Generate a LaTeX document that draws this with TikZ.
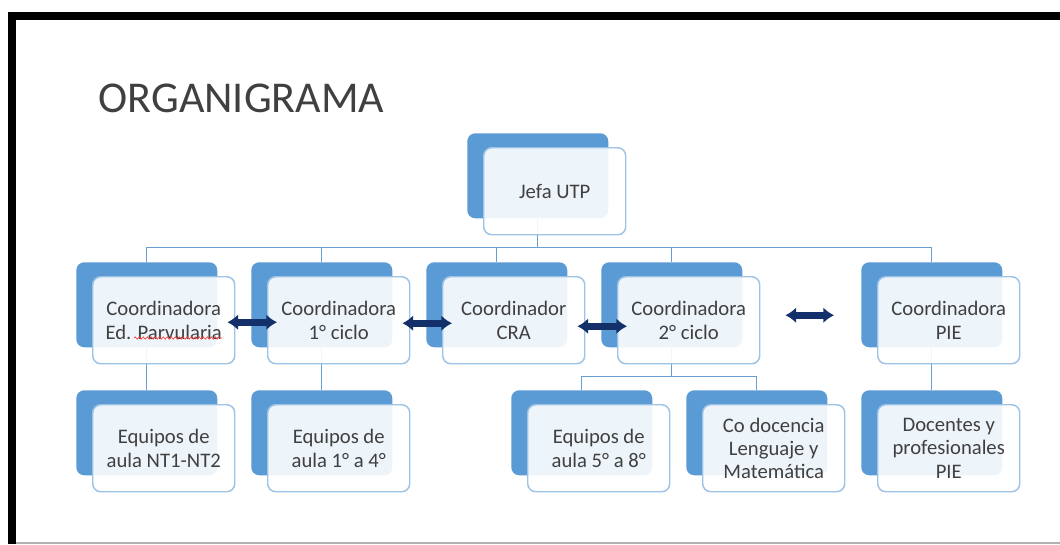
\documentclass[tikz,border=0pt]{standalone}
\usepackage{fontspec}
\setmainfont{Carlito}
\usetikzlibrary{arrows.meta,calc,backgrounds,decorations.pathmorphing}
\definecolor{boxblue}{HTML}{5B9BD5}
\definecolor{rimblue}{HTML}{9DC3E6}
\definecolor{linkblue}{HTML}{6A9FD4}
\definecolor{navy}{HTML}{13306B}
\definecolor{txtgray}{HTML}{404040}
\begin{document}
\begin{tikzpicture}[x=0.75pt, y=-0.75pt,
  back/.style={anchor=north west, fill=boxblue, rounded corners=6pt, minimum width=105.75pt, minimum height=63.75pt, inner sep=0pt},
  front/.style={anchor=north west, draw=rimblue, line width=1.1pt, fill=white, fill opacity=0.9, text opacity=1, text=txtgray, rounded corners=6pt, minimum width=106.5pt, minimum height=65.25pt, inner sep=0pt, align=center, font=\fontsize{15.5}{17.5}\selectfont},
  link/.style={draw=linkblue, line width=1pt},
  biarrow/.style={draw=navy, line width=5pt, {Latex[length=8pt,width=12pt]}-{Latex[length=8pt,width=12pt]}}]%[shorten >=1pt]
  \useasboundingbox (0,0) rectangle (1060,544);
  \draw[line width=6pt, line join=miter] (12,544) -- (12,16) -- (1060,16);
  \draw[gray!60, line width=1.5pt] (16,542.5) -- (1060,542.5);
  \node[anchor=base west, text=txtgray, font=\fontsize{33}{40}\selectfont] (title) at (94,112) {ORGANIGRAMA};

  \node[back] (jefab) at (467,133) {};
  \node[front] (jefa) at (483,147) {Jefa UTP};

  \node[back] (parvb) at (76,262) {};
  \node[front] (parv) at (92,276) {Coordinadora\\Ed. Parvularia};
  \node[back] (cicloib) at (251,262) {};
  \node[front] (cicloi) at (267,276) {Coordinadora\\1° ciclo};
  \node[back] (crab) at (426,262) {};
  \node[front] (cra) at (442,276) {Coordinador\\CRA};
  \node[back] (cicloiib) at (601,262) {};
  \node[front] (cicloii) at (617,276) {Coordinadora\\2° ciclo};
  \node[back] (pieb) at (861,262) {};
  \node[front] (pie) at (877,276) {Coordinadora\\PIE};

  \node[back] (eqab) at (76,390) {};
  \node[front] (eqa) at (92,404) {Equipos de\\aula NT1-NT2};
  \node[back] (eqbb) at (251,390) {};
  \node[front] (eqb) at (267,404) {Equipos de\\aula 1° a 4°};
  \node[back] (eqcb) at (511,390) {};
  \node[front] (eqc) at (527,404) {Equipos de\\aula 5° a 8°};
  \node[back] (codb) at (686,390) {};
  \node[front] (cod) at (702,404) {Co docencia\\Lenguaje y\\Matemática};
  \node[back] (docb) at (861,390) {};
  \node[front] (doc) at (877,404) {Docentes y\\profesionales\\PIE};

  \draw[red!80, line width=0.5pt, decorate, decoration={snake, amplitude=0.8pt, segment length=3pt}] (134,338) -- (222,338);

  \begin{scope}[on background layer]
    \fill[white] (0,0) rectangle (1060,544);
    \foreach \c in {parvb,cicloib,crab,cicloiib,pieb}
      \draw[link] (jefab.south) -- ++(0,29) -| (\c.north);
    \foreach \c in {eqcb,codb}
      \draw[link] (cicloiib.south) -- ++(0,29) -| (\c.north);
    \draw[link] (parvb.south) -- (eqab.north);
    \draw[link] (cicloib.south) -- (eqbb.north);
    \draw[link] (pieb.south) -- (docb.north);
  \end{scope}

  \draw[biarrow] ($(parv.east)+(-8,2)$) -- ($(cicloi.west)+(10,2)$);
  \draw[biarrow] ($(cicloi.east)+(-8,3)$) -- ($(cra.west)+(10,3)$);
  \draw[biarrow] ($(cra.east)+(-8,6)$) -- ($(cicloii.west)+(10,6)$);
  \draw[biarrow] ($(cicloii.east)+(25,-5)$) -- ($(pie.west)+(-43,-5)$);
\end{tikzpicture}
\end{document}
